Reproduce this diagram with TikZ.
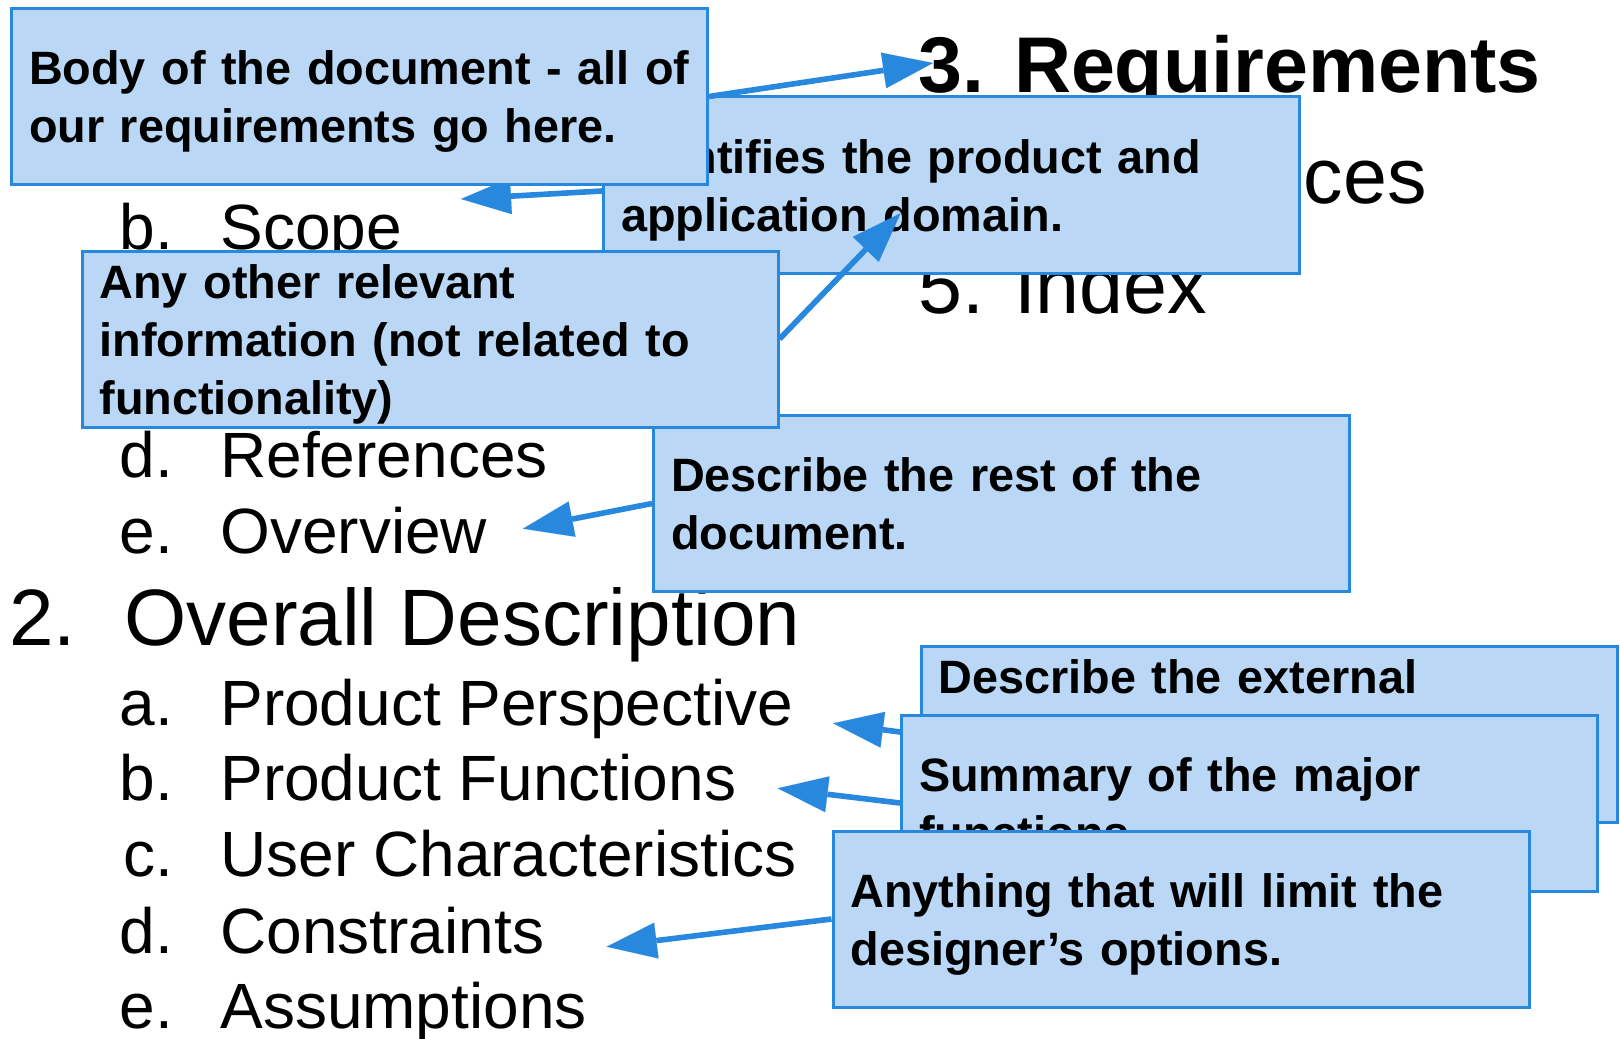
\documentclass[tikz,border=0pt]{standalone}
\usepackage{fontspec}
\setmainfont{Liberation Sans}
\usetikzlibrary{arrows.meta}
\definecolor{boxfill}{RGB}{186,215,245}
\definecolor{boxline}{RGB}{40,136,221}
\newcommand\bxl[1]{\mbox{\rule[-6pt]{0pt}{29pt}#1}}
\begin{document}
\begin{tikzpicture}[x=0.5pt,y=-0.5pt,
  note/.style={draw=boxline, fill=boxfill, line width=1.5pt, rectangle,
    minimum width=348pt, minimum height=88pt, inner xsep=8.75pt, inner ysep=0pt,
    text width=330.5pt, align=left, font=\fontsize{23.4pt}{29pt}\selectfont\bfseries},
  arr/.style={draw=boxline, line width=2.8pt,
    -{Triangle[length=25pt,width=18pt,line width=0.01pt]}},
  head/.style={anchor=base west, inner sep=0pt, font=\fontsize{40pt}{40pt}\selectfont},
  sub/.style={anchor=base west, inner sep=0pt, font=\fontsize{32pt}{32pt}\selectfont},
]
\useasboundingbox (0,0) rectangle (1620,1038);

% background outline text
\node[sub] (l1b) at (119.5,249.3) {\makebox[50.25pt][l]{b.}Scope};
\node[sub] (l1d) at (119.5,477.3) {\makebox[50.25pt][l]{d.}References};
\node[sub] (l1e) at (119.5,553.3) {\makebox[50.25pt][l]{e.}Overview};
\node[head] (h2) at (9,645) {\makebox[57.5pt][l]{2.}Overall Description};
\node[sub] (l2a) at (119.5,725.5) {\makebox[50.25pt][l]{a.}Product Perspective};
\node[sub] (l2b) at (119.5,800.7) {\makebox[50.25pt][l]{b.}Product Functions};
\node[sub] (l2c) at (123,876.7) {\makebox[48.5pt][l]{c.}User Characteristics};
\node[sub] (l2d) at (119.5,953.3) {\makebox[50.25pt][l]{d.}Constraints};
\node[sub] (l2e) at (119.5,1028.3) {\makebox[50.25pt][l]{e.}Assumptions};
\node[head, font=\fontsize{39.5pt}{40pt}\selectfont\bfseries] (r3) at (918.5,92.5) {3. Requirements};
\node[head, font=\fontsize{39.5pt}{40pt}\selectfont] (r4) at (918.5,203.3) {4. Appendices};
\node[head, font=\fontsize{39.5pt}{40pt}\selectfont] (r5) at (918.5,313.3) {5. Index};

% arrow targets
\coordinate (tR) at (933,63);
\coordinate (tA) at (461,199);
\coordinate (tD) at (900.5,213.3);
\coordinate (tO) at (523,528.7);
\coordinate (tP) at (833.2,723.3);
\coordinate (tF) at (777.7,788.3);
\coordinate (tC) at (606.7,946.7);

% callouts
\node[note] (b2) at (951.5,185) {\bxl{Identifies the product and}\\\bxl{application domain.}};
\draw[arr] ([yshift=-3pt]b2.west) -- (tA);

\node[note] (b4) at (1001.5,503.5) {\bxl{Describe the rest of the}\\\bxl{document.}};
\draw[arr] (b4.west) -- (tO);

\node[note] (b3) at (430,339) {\bxl{Any other relevant}\\\bxl{information (not related to}\\\bxl{functionality)}};
\draw[arr] (b3.east) -- (tD);

\node[note] (b1) at (359.5,96.5) {\bxl{Body of the document - all of}\\\bxl{our requirements go here.}};
\draw[arr] (b1.east) -- (tR);

\node[note] (b5) at (1269,734.5) {\bxl{Describe the external}\\\bxl{}\\\bxl{}};
\draw[arr] (b5.west) -- (tP);

\node[note] (b6) at (1249.5,803) {\bxl{Summary of the major}\\\bxl{functions.}};
\draw[arr] (b6.west) -- (tF);

\node[note] (b7) at (1181,919) {\bxl{Anything that will limit the}\\\bxl{designer’s options.}};
\draw[arr] (b7.west) -- (tC);
\end{tikzpicture}
\end{document}
